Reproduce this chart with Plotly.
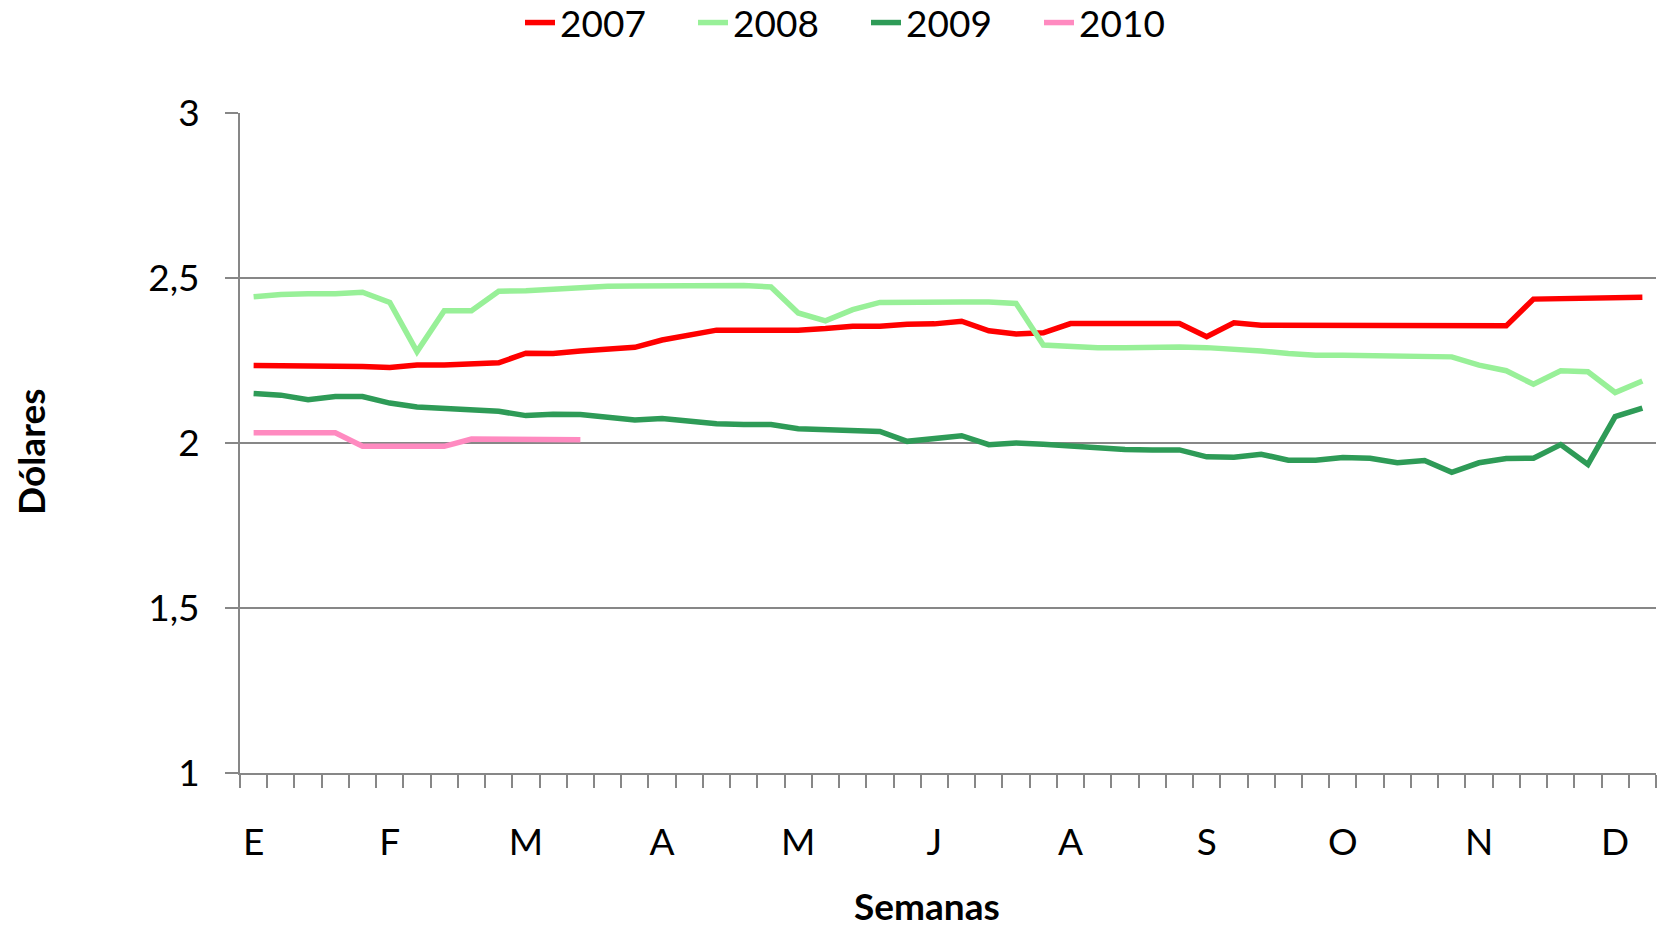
import plotly.graph_objects as go

weeks = list(range(1, 53))
tick_weeks = [1, 6, 11, 16, 21, 26, 31, 36, 41, 46, 51]
tick_labels = ["E", "F", "M", "A", "M", "J", "A", "S", "O", "N", "D"]

y2007 = [2.235, 2.235, 2.234, 2.233, 2.232, 2.229, 2.236, 2.236, 2.241, 2.243,
         2.272, 2.271, 2.279, 2.284, 2.290, 2.312, 2.328, 2.342, 2.342, 2.342,
         2.342, 2.347, 2.354, 2.354, 2.360, 2.361, 2.369, 2.340, 2.330, 2.334,
         2.362, 2.362, 2.362, 2.362, 2.362, 2.322, 2.364, 2.357, 2.357, 2.357,
         2.356, 2.355, 2.355, 2.355, 2.355, 2.355, 2.355, 2.436, 2.438, 2.438,
         2.442, 2.442]
y2008 = [2.443, 2.450, 2.452, 2.452, 2.457, 2.426, 2.277, 2.401, 2.401, 2.460,
         2.461, 2.465, 2.473, 2.475, 2.476, 2.477, 2.478, 2.478, 2.477, 2.473,
         2.394, 2.370, 2.404, 2.426, 2.425, 2.426, 2.427, 2.427, 2.423, 2.297,
         2.292, 2.289, 2.289, 2.291, 2.291, 2.289, 2.285, 2.279, 2.271, 2.266,
         2.266, 2.265, 2.264, 2.262, 2.261, 2.236, 2.219, 2.178, 2.219, 2.216,
         2.153, 2.188]
y2009 = [2.150, 2.145, 2.131, 2.141, 2.141, 2.121, 2.109, 2.105, 2.100, 2.096,
         2.083, 2.087, 2.086, 2.076, 2.070, 2.074, 2.064, 2.058, 2.056, 2.056,
         2.043, 2.040, 2.040, 2.035, 2.005, 2.015, 2.022, 1.995, 2.000, 1.996,
         1.990, 1.984, 1.980, 1.979, 1.979, 1.958, 1.957, 1.966, 1.948, 1.948,
         1.956, 1.954, 1.940, 1.947, 1.911, 1.940, 1.953, 1.954, 1.995, 1.935,
         2.080, 2.106]
y2010 = [2.031, 2.031, 2.031, 2.031, 1.990, 1.990, 1.990, 1.990, 2.012, 2.012,
         2.012, 2.012, 2.010]

series_names = ["2007", "2008", "2009", "2010"]
series_values = [y2007, y2008, y2009, y2010]
series_colors = ["#FF0000", "#98F098", "#2E9B57", "#FF8AC0"]

GRAY = "#878787"
FONT = "Lato"

fig = go.Figure()
for name, vals, col in zip(series_names, series_values, series_colors):
    fig.add_trace(go.Scatter(
        x=weeks[:len(vals)], y=vals, name=name, mode="lines",
        line=dict(color=col, width=5.5),
    ))

W, H = 1657, 930
fig.update_layout(
    width=W, height=H,
    margin=dict(l=240, r=1, t=113, b=157),
    paper_bgcolor="white", plot_bgcolor="white",
    font=dict(family=FONT, size=37, color="black"),
    separators=",.",
    showlegend=True,
    legend=dict(
        orientation="h", xref="container", yref="container",
        x=520 / W, xanchor="left", y=1 - 23 / H, yanchor="middle",
        entrywidth=128, entrywidthmode="pixels",
        font=dict(family=FONT, size=37, color="black"),
        bgcolor="rgba(0,0,0,0)", borderwidth=0,
    ),
    xaxis=dict(
        range=[0.5, 52.5], tickmode="array", tickvals=tick_weeks, ticktext=tick_labels,
        ticks="", showgrid=False, zeroline=False,
        showline=True, linecolor=GRAY, linewidth=2,
        tickfont=dict(family=FONT, size=37, color="black"),
        ticklabelstandoff=36,
        minor=dict(tickmode="linear", tick0=0.5, dtick=1, ticks="outside",
                   ticklen=13, tickwidth=2, tickcolor=GRAY, showgrid=False),
    ),
    yaxis=dict(
        range=[1, 3], tickmode="linear", tick0=1, dtick=0.5,
        showgrid=True, gridcolor=GRAY, gridwidth=2, zeroline=False,
        showline=True, linecolor=GRAY, linewidth=2,
        ticks="outside", ticklen=13, tickwidth=2, tickcolor=GRAY,
        tickfont=dict(family=FONT, size=37, color="black"),
        ticklabelstandoff=18,
    ),
    annotations=[
        dict(text="Dólares", xref="paper", yref="paper",
             x=(31 - 240) / 1416, y=(773.3 - 452) / 660.6,
             xanchor="center", yanchor="middle", textangle=-90, showarrow=False,
             font=dict(family=FONT, size=37, color="black", weight="bold")),
        dict(text="Semanas", xref="paper", yref="paper",
             x=(927 - 240) / 1416, y=(773.3 - 906) / 660.6,
             xanchor="center", yanchor="middle", showarrow=False,
             font=dict(family=FONT, size=37, color="black", weight="bold")),
    ],
)

fig.write_html(
    "out.html",
    config={"displayModeBar": False},
    post_script="document.body.style.margin='0';document.body.style.overflow='hidden';",
)
